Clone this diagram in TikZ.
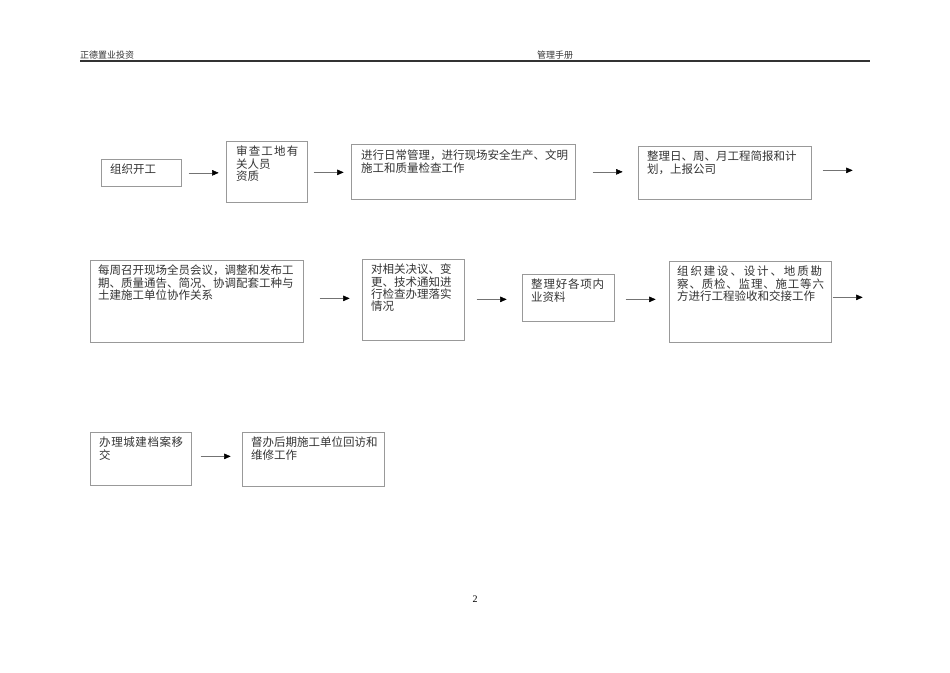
\documentclass[tikz,border=0pt]{standalone}
\usepackage{fontspec}
\setmainfont{Liberation Serif}
\newfontfamily\cjk{Noto Sans CJK SC}
\usetikzlibrary{arrows.meta,calc}
\tikzset{
  box/.style={draw=black!40,line width=0.7pt,anchor=north west,inner sep=0pt},
  txt/.style={anchor=north west,inner sep=0pt,align=left,font=\cjk\fontsize{11.5}{12.2}\selectfont,text=black!80},
  arr/.style={draw=black!55,line width=0.5pt,-{Triangle[length=6.5pt,width=5.5pt,color=black,fill=black]}},
  hdr/.style={anchor=base west,inner sep=0pt,font=\cjk\fontsize{9}{10}\selectfont,text=black!80}
}
\newcommand{\bx}[5]{\node[box,minimum width=#3pt,minimum height=#4pt] (#5) at (#1,#2) {};}
\begin{document}
\begin{tikzpicture}[x=1pt,y=-1pt]
\useasboundingbox (0,0) rectangle (950,672);
% header
\node[hdr] (h1) at (80,58) {正德置业投资};
\node[hdr] (h2) at (537,58) {管理手册};
\draw[line width=1.6pt,black!80] (80,61) -- (870,61);
% row 1
\bx{101}{159}{80}{27}{b1}
\bx{226}{141}{81}{61}{b2}
\bx{351}{144}{224}{55}{b3}
\bx{638}{146}{173}{53}{b4}
\node[txt] (t1) at (110,164) {组织开工};
\node[txt] (t2) at (236,146) {\addfontfeature{LetterSpace=10}审查工地有\\关人员\\资质};
\node[txt] (t3) at (361,150) {进行日常管理，进行现场安全生产、文明\\施工和质量检查工作};
\node[txt] (t4) at (647,151) {整理日、周、月工程简报和计\\划，上报公司};
\draw[arr] ($(b1.east)+(7,0)$) -- ++(30,0);
\draw[arr] ($(b2.east)+(6,0.5)$) -- ++(30,0);
\draw[arr] ($(b3.east)+(17,0)$) -- ++(30,0);
\draw[arr] ($(b4.east)+(11,-2.5)$) coordinate (e1) -- ++(30,0) coordinate (e2);
% row 2
\bx{90}{260}{213}{82}{b5}
\bx{362}{259}{102}{81}{b6}
\bx{522}{274}{92}{47}{b7}
\bx{669}{261}{162}{81}{b8}
\node[txt] (t5) at (98,265) {每周召开现场全员会议，调整和发布工\\期、质量通告、简况、协调配套工种与\\土建施工单位协作关系};
\node[txt] (t6) at (371,264) {对相关决议、变\\更、技术通知进\\行检查办理落实\\情况};
\node[txt] (t7) at (531,279) {\addfontfeature{LetterSpace=7}整理好各项内\\业资料};
\node[txt] (t8) at (677,266) {{\addfontfeature{LetterSpace=16}组织建设、设计、地质勘}\\{\addfontfeature{LetterSpace=7}察、质检、监理、施工等六}\\方进行工程验收和交接工作};
\draw[arr] ($(b5.east)+(16,-3)$) -- ++(30,0);
\draw[arr] ($(b6.east)+(12,-0.5)$) -- ++(30,0);
\draw[arr] ($(b7.east)+(11,1.5)$) -- ++(30,0);
\draw[arr] ($(b8.east)+(1,-4.5)$) coordinate (e3) -- ++(30,0) coordinate (e4);
% row 3
\bx{90}{432}{101}{53}{b9}
\bx{242}{432}{142}{54}{b10}
\node[txt] (t9) at (99,437) {\addfontfeature{LetterSpace=5}办理城建档案移\\交};
\node[txt] (t10) at (251,437) {督办后期施工单位回访和\\维修工作};
\draw[arr] ($(b9.east)+(9,-2.5)$) -- ++(30,0);
% page number
\node[anchor=base,inner sep=0pt,font=\fontsize{10}{12}\selectfont] (pg) at (475,602) {2};
\end{tikzpicture}
\end{document}
